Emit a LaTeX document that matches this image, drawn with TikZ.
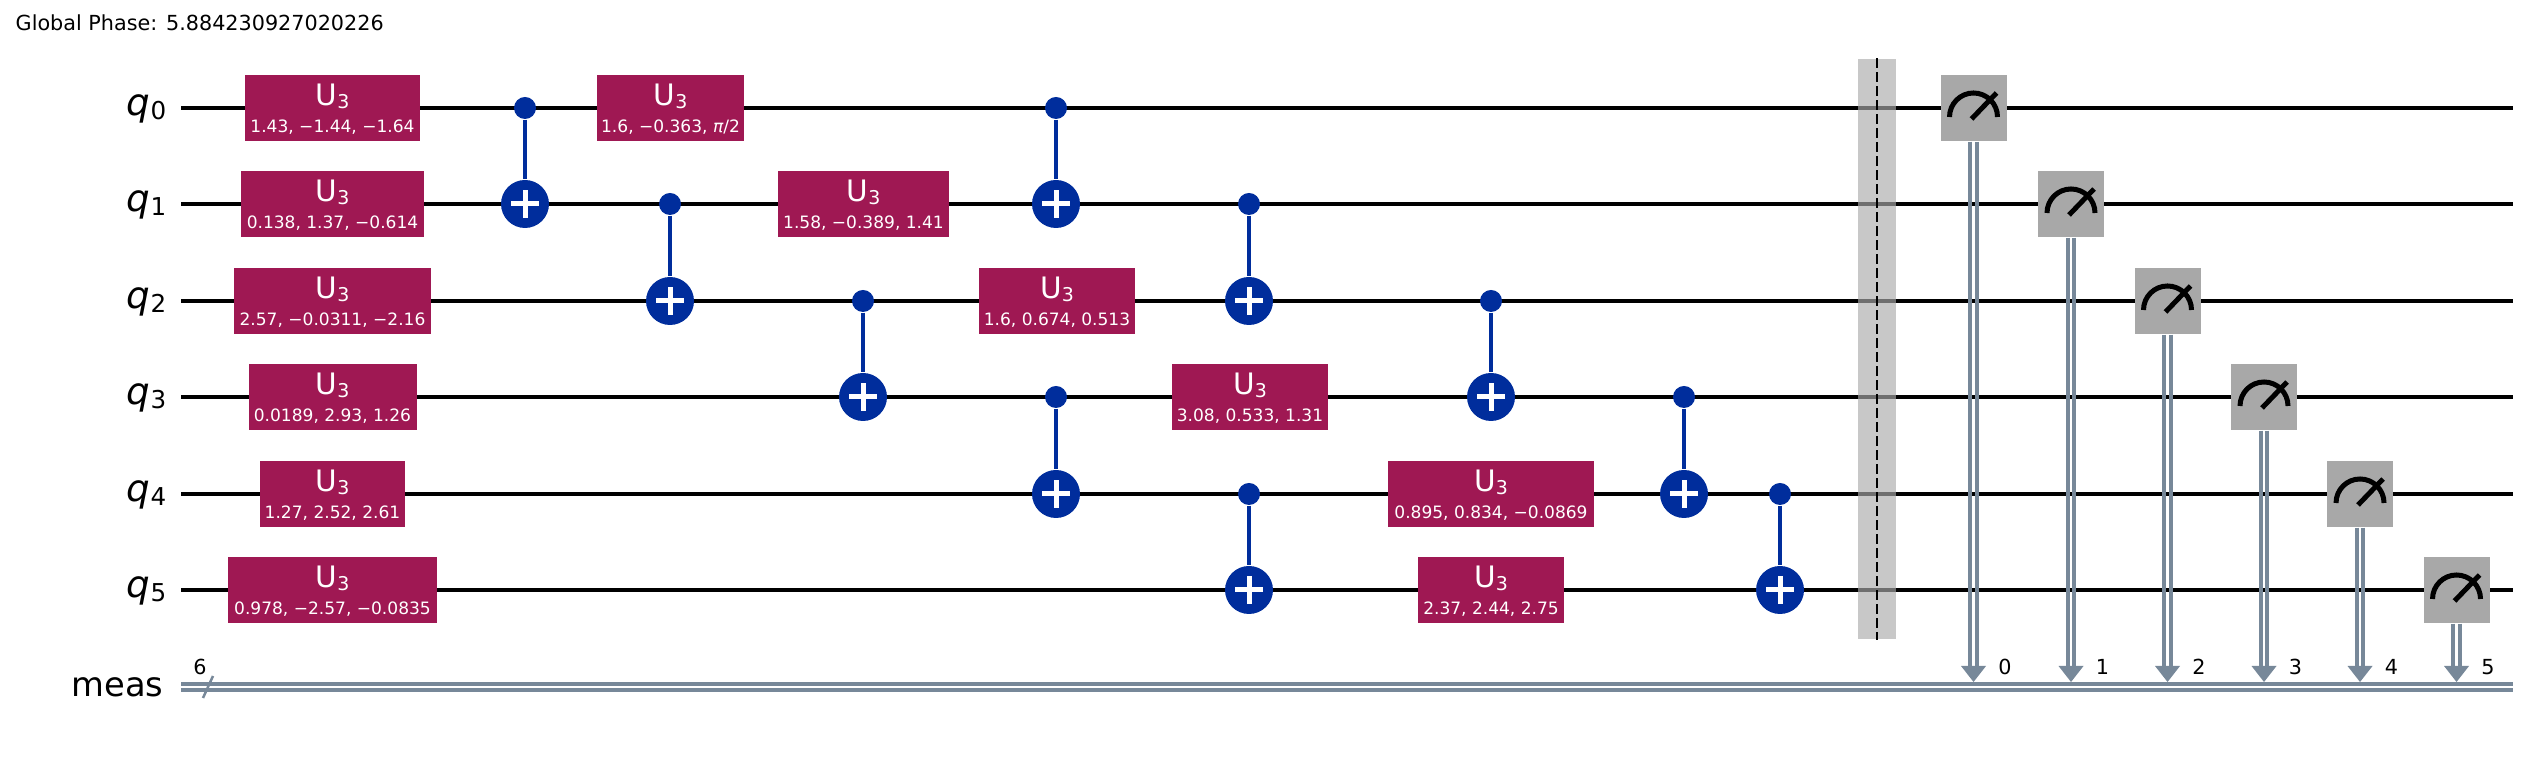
\documentclass[tikz,border=0pt]{standalone}
\usepackage{fontspec}
\setmainfont{DejaVu Sans}
\usepackage{xcolor}

\definecolor{gatecol}{HTML}{9F1853}
\definecolor{cxcol}{HTML}{002D9C}
\definecolor{meascol}{HTML}{A8A8A8}
\definecolor{cbitcol}{HTML}{778899}
\definecolor{barcol}{HTML}{ABABAB}

\newcommand{\gatetext}[1]{{\fontsize{8.4}{7.6}\selectfont U\raisebox{-.85pt}{\fontsize{5.4}{7.6}\selectfont 3}\rule{0pt}{7.4pt}}\\{\fontsize{4.85}{7.6}\selectfont #1\rule[-.94pt]{0pt}{.94pt}}}
\newcommand{\qname}[1]{{\fontsize{10.6}{12}\selectfont\itshape q}\raisebox{-1.1pt}{\fontsize{7}{8}\selectfont #1}}

\tikzset{
	wire/.style={line width=.047cm,black},
	cbit/.style={line width=.043cm,cbitcol},
	gate/.style={rectangle,fill=gatecol,text=white,minimum height=.66cm,inner sep=0pt,align=center,font=\fontsize{7.8}{7.6}\selectfont},
	meter/.style={rectangle,fill=meascol,minimum width=.66cm,minimum height=.66cm,inner sep=0pt},
	dial/.style={line width=.05cm,black},
	ctrl/.style={circle,fill=cxcol,minimum size=.22cm,inner sep=0pt},
	targ/.style={circle,fill=cxcol,minimum size=.48cm,inner sep=0pt},
	cxline/.style={line width=.045cm,cxcol},
	plusline/.style={line width=.05cm,white},
	regname/.style={anchor=base east,inner sep=0pt,font=\fontsize{9.6}{12}\selectfont},
	small/.style={inner sep=0pt,font=\fontsize{5.9}{7}\selectfont},
	barrier/.style={rectangle,fill=barcol,fill opacity=.65,minimum width=.38cm,minimum height=5.8cm,inner sep=0pt},
	barline/.style={line width=.02cm,black,dash pattern=on .1cm off .04cm}
}

\begin{document}
\begin{tikzpicture}
	\useasboundingbox (0,0) rectangle (25.35,7.6);

	\node[small,anchor=base west] (phase) at (.15,7.29) {Global Phase: 5.884230927020226};

	% wires
	\foreach \n/\y in {0/6.52,1/5.56,2/4.59,3/3.63,4/2.66,5/1.70}{
		\coordinate (q\n s) at (1.81,\y);
		\coordinate (q\n e) at (25.13,\y);
		\draw[wire] (q\n s) -- (q\n e);
		\node[regname] (lq\n) at ([xshift=-.14cm,yshift=-.08cm]q\n s) {\qname{\n}};
	}

	% classical register
	\coordinate (cs) at (1.81,.73);
	\coordinate (ce) at (25.13,.73);
	\draw[cbit] ([yshift=.03cm]cs) -- ([yshift=.03cm]ce);
	\draw[cbit] ([yshift=-.03cm]cs) -- ([yshift=-.03cm]ce);
	\node[regname] (lmeas) at (1.64,.63) {meas};
	\coordinate (sa) at (2.03,.62);
	\coordinate (sb) at (2.13,.84);
	\draw[line width=.025cm,cbitcol] (sa) -- (sb);
	\node[small] (six) at (2.00,.93) {6};

	% first column
	\node[gate,minimum width=1.75cm] (g0a) at (3.325,6.52) {\gatetext{1.43, −1.44, −1.64}};
	\node[gate,minimum width=1.83cm] (g1a) at (3.325,5.56) {\gatetext{0.138, 1.37, −0.614}};
	\node[gate,minimum width=1.97cm] (g2a) at (3.325,4.59) {\gatetext{2.57, −0.0311, −2.16}};
	\node[gate,minimum width=1.68cm] (g3a) at (3.325,3.63) {\gatetext{0.0189, 2.93, 1.26}};
	\node[gate,minimum width=1.45cm] (g4a) at (3.325,2.66) {\gatetext{1.27, 2.52, 2.61}};
	\node[gate,minimum width=2.09cm] (g5a) at (3.325,1.70) {\gatetext{0.978, −2.57, −0.0835}};

	% second layer
	\node[gate,minimum width=1.47cm] (g0b) at (6.705,6.52) {\gatetext{1.6, −0.363, {\itshape π}/2}};
	\node[gate,minimum width=1.71cm] (g1b) at (8.635,5.56) {\gatetext{1.58, −0.389, 1.41}};
	\node[gate,minimum width=1.56cm] (g2b) at (10.57,4.59) {\gatetext{1.6, 0.674, 0.513}};
	\node[gate,minimum width=1.56cm] (g3b) at (12.50,3.63) {\gatetext{3.08, 0.533, 1.31}};
	\node[gate,minimum width=2.06cm] (g4b) at (14.91,2.66) {\gatetext{0.895, 0.834, −0.0869}};
	\node[gate,minimum width=1.46cm] (g5b) at (14.91,1.70) {\gatetext{2.37, 2.44, 2.75}};

	% cnots
	\foreach \n/\x/\yc/\yt in {1/5.25/6.52/5.56,2/6.70/5.56/4.59,3/8.63/4.59/3.63,4/10.56/6.52/5.56,5/10.56/3.63/2.66,6/12.49/5.56/4.59,7/12.49/2.66/1.70,8/14.91/4.59/3.63,9/16.84/3.63/2.66,10/17.80/2.66/1.70}{
		\node[ctrl] (c\n) at (\x,\yc) {};
		\node[targ] (t\n) at (\x,\yt) {};
		\draw[cxline] (c\n) -- (t\n);
		\draw[plusline] ([xshift=-.14cm]t\n.center) -- ([xshift=.14cm]t\n.center);
		\draw[plusline] ([yshift=-.14cm]t\n.center) -- ([yshift=.14cm]t\n.center);
	}

	% barrier
	\node[barrier] (bar) at (18.77,4.11) {};
	\draw[barline] (bar.north) -- (bar.south);

	% measurements
	\foreach \n/\x/\y in {0/19.735/6.52,1/20.71/5.56,2/21.675/4.59,3/22.64/3.63,4/23.60/2.66,5/24.565/1.70}{
		\coordinate (b\n) at (\x,.78);
		\node[meter] (m\n) at (\x,\y) {};
		\draw[dial] ([xshift=-.24cm,yshift=-.09cm]m\n.center) arc (180:0:.24);
		\draw[dial] ([xshift=-.02cm,yshift=-.11cm]m\n.center) -- ([xshift=.23cm,yshift=.15cm]m\n.center);
		\draw[cbit] ([xshift=-.032cm]m\n.south) -- ([xshift=-.032cm,yshift=.16cm]b\n);
		\draw[cbit] ([xshift=.032cm]m\n.south) -- ([xshift=.032cm,yshift=.16cm]b\n);
		\fill[cbitcol] ([xshift=-.125cm,yshift=.16cm]b\n) -- ([xshift=.125cm,yshift=.16cm]b\n) -- (b\n) -- cycle;
		\node[small] (n\n) at ([xshift=.315cm,yshift=.15cm]b\n) {\n};
	}
\end{tikzpicture}
\end{document}
